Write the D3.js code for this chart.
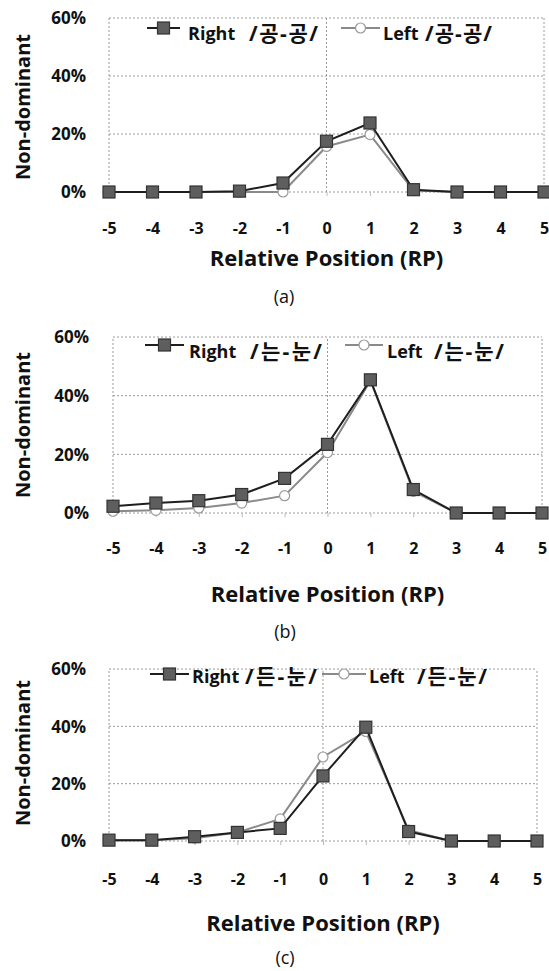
<!DOCTYPE html>
<html>
<head>
<meta charset="utf-8">
<script src="https://cdn.jsdelivr.net/npm/d3@7"></script>
<style>
  body { margin: 0; background: #fff; }
  text { font-family: "Open Sans", "Noto Sans CJK KR", sans-serif; fill: #111; }
</style>
</head>
<body>
<svg id="chart" width="549" height="971"></svg>
<script>
// values, in % non-dominant responses
const positions = [-5, -4, -3, -2, -1, 0, 1, 2, 3, 4, 5];
const yTicks = [0, 20, 40, 60];

const rightA = [0, 0, 0, 0.3, 3.1, 17.5, 23.8, 0.8, 0, 0, 0];
const leftA = [0, 0, 0, 0, 0, 15.7, 19.8, 0.5, 0, 0, 0];
const rightB = [2.3, 3.4, 4.2, 6.3, 11.8, 23.4, 45.4, 8, 0, 0, 0];
const leftB = [0.6, 0.9, 1.7, 3.4, 5.9, 20.6, 45.1, 7.4, 0, 0, 0];
const rightC = [0.3, 0.3, 1.5, 3, 4.4, 22.7, 39.7, 3.3, 0, 0, 0];
const leftC = [0.3, 0.3, 1, 3, 7.7, 29.3, 38.2, 3.8, 0, 0, 0];

const seriesNames = ["Right", "Left"];
const wordPairs = ["/공-공/", "/는-눈/", "/든-눈/"];
const captions = ["(a)", "(b)", "(c)"];
const xTitle = "Relative Position (RP)";
const yTitle = "Non-dominant";

// where each panel sits on the page
// leg: [lineStart, lineEnd, nameX, pairX, pairEnd]
const panels = [
  {
    right: rightA, left: leftA, pair: wordPairs[0], caption: captions[0],
    x0: 109, x1: 544, yTop: 18, yZero: 192, yLabelX: 86, yTitleY: 107,
    tickY: 228, titleY: 258, capX: 284, capY: 297,
    legR: [147, 180, 188, 249, 318], legL: [341, 380, 383, 425, 492],
    legMarkY: 28, legTextY: 40,
  },
  {
    right: rightB, left: leftB, pair: wordPairs[1], caption: captions[1],
    x0: 113, x1: 542, yTop: 337, yZero: 513, yLabelX: 89, yTitleY: 425,
    tickY: 548, titleY: 594, capX: 285, capY: 632,
    legR: [145, 184, 189, 250, 322], legL: [345, 383, 387, 434, 504],
    legMarkY: 345, legTextY: 358,
  },
  {
    right: rightC, left: leftC, pair: wordPairs[2], caption: captions[2],
    x0: 109, x1: 537, yTop: 669, yZero: 841, yLabelX: 86, yTitleY: 753,
    tickY: 879, titleY: 923, capX: 285, capY: 958,
    legR: [150, 189, 192, 245, 317], legL: [322, 366, 369, 417, 487],
    legMarkY: 674, legTextY: 683,
  },
];

const svg = d3.select("#chart");

const darkLine = "#1e1e1e",
  greyLine = "#8a8a8a",
  gridColor = "#9a9a9a";

function squareMark(g, cx, cy) {
  g.append("rect")
    .attr("x", cx - 6)
    .attr("y", cy - 6)
    .attr("width", 12)
    .attr("height", 12)
    .attr("fill", "#5e5e5e")
    .attr("stroke", "#333")
    .attr("stroke-width", 1.2);
}

function circleMark(g, cx, cy) {
  g.append("circle")
    .attr("cx", cx)
    .attr("cy", cy)
    .attr("r", 5)
    .attr("fill", "#fff")
    .attr("stroke", "#999")
    .attr("stroke-width", 1.2);
}

function legendEntry(g, leg, p, color, name, marker) {
  g.append("line")
    .attr("x1", leg[0])
    .attr("x2", leg[1])
    .attr("y1", p.legMarkY)
    .attr("y2", p.legMarkY)
    .attr("stroke", color)
    .attr("stroke-width", 2);
  marker(g, (leg[0] + leg[1]) / 2, p.legMarkY);
  g.append("text")
    .attr("x", leg[2])
    .attr("y", p.legTextY)
    .style("font-size", "18px")
    .style("font-weight", "bold")
    .text(name);
  g.append("text")
    .attr("x", leg[3])
    .attr("y", p.legTextY + 1)
    .attr("textLength", leg[4] - leg[3])
    .attr("lengthAdjust", "spacing")
    .style("font-size", "21px")
    .style("font-weight", "bold")
    .text(p.pair);
}

panels.forEach((p) => {
  const g = svg.append("g");

  const x = d3.scalePoint().domain(positions).range([p.x0, p.x1]);
  const y = d3.scaleLinear().domain([0, 60]).range([p.yZero, p.yTop]);

  // dotted grid + frame
  g.append("g")
    .selectAll("line")
    .data(yTicks)
    .join("line")
    .attr("x1", p.x0)
    .attr("x2", p.x1)
    .attr("y1", (d) => y(d))
    .attr("y2", (d) => y(d))
    .attr("stroke", gridColor)
    .attr("stroke-width", 1)
    .attr("stroke-dasharray", "2,2");

  g.append("g")
    .selectAll("line")
    .data([positions[0], 0, positions[positions.length - 1]])
    .join("line")
    .attr("x1", (d) => x(d))
    .attr("x2", (d) => x(d))
    .attr("y1", y(0))
    .attr("y2", y(60))
    .attr("stroke", gridColor)
    .attr("stroke-width", 1)
    .attr("stroke-dasharray", "2,2");

  // x axis: small ticks and bold labels
  const xAxis = g
    .append("g")
    .attr("transform", `translate(0,${p.yZero})`)
    .call(d3.axisBottom(x).tickSize(4));
  xAxis.select(".domain").remove();
  xAxis.selectAll(".tick line").attr("stroke", "#bbb");
  xAxis
    .selectAll(".tick text")
    .attr("y", p.tickY - p.yZero)
    .attr("dy", "0.35em")
    .style("font-family", '"Open Sans", sans-serif')
    .style("font-size", "16px")
    .style("font-weight", "bold")
    .attr("fill", "#111");

  // y axis
  const yAxis = g
    .append("g")
    .attr("transform", `translate(${p.x0},0)`)
    .call(
      d3
        .axisLeft(y)
        .tickValues(yTicks)
        .tickSize(0)
        .tickFormat((d) => d + "%")
    );
  yAxis.select(".domain").remove();
  yAxis
    .selectAll(".tick text")
    .attr("x", p.yLabelX - p.x0)
    .attr("dy", "0.35em")
    .style("font-family", '"Open Sans", sans-serif')
    .style("font-size", "17px")
    .style("font-weight", "bold")
    .attr("fill", "#111");

  // series
  const line = d3
    .line()
    .x((d, i) => x(positions[i]))
    .y((d) => y(d));

  g.append("path")
    .datum(p.left)
    .attr("d", line)
    .attr("fill", "none")
    .attr("stroke", greyLine)
    .attr("stroke-width", 2);

  p.left.forEach((v, i) => circleMark(g, x(positions[i]), y(v)));

  g.append("path")
    .datum(p.right)
    .attr("d", line)
    .attr("fill", "none")
    .attr("stroke", darkLine)
    .attr("stroke-width", 2);

  p.right.forEach((v, i) => squareMark(g, x(positions[i]), y(v)));

  // legend
  legendEntry(g, p.legR, p, darkLine, seriesNames[0], squareMark);
  legendEntry(g, p.legL, p, greyLine, seriesNames[1], circleMark);

  // titles
  g.append("text")
    .attr("x", x(0))
    .attr("y", p.titleY)
    .attr("dy", "0.35em")
    .attr("text-anchor", "middle")
    .style("font-size", "22px")
    .style("font-weight", "bold")
    .text(xTitle);

  g.append("text")
    .attr("transform", `translate(23,${p.yTitleY}) rotate(-90)`)
    .attr("dy", "0.35em")
    .attr("text-anchor", "middle")
    .style("font-size", "20px")
    .style("font-weight", "bold")
    .text(yTitle);

  g.append("text")
    .attr("x", p.capX)
    .attr("y", p.capY)
    .attr("dy", "0.35em")
    .attr("text-anchor", "middle")
    .style("font-size", "18px")
    .text(p.caption);
});
</script>
</body>
</html>
